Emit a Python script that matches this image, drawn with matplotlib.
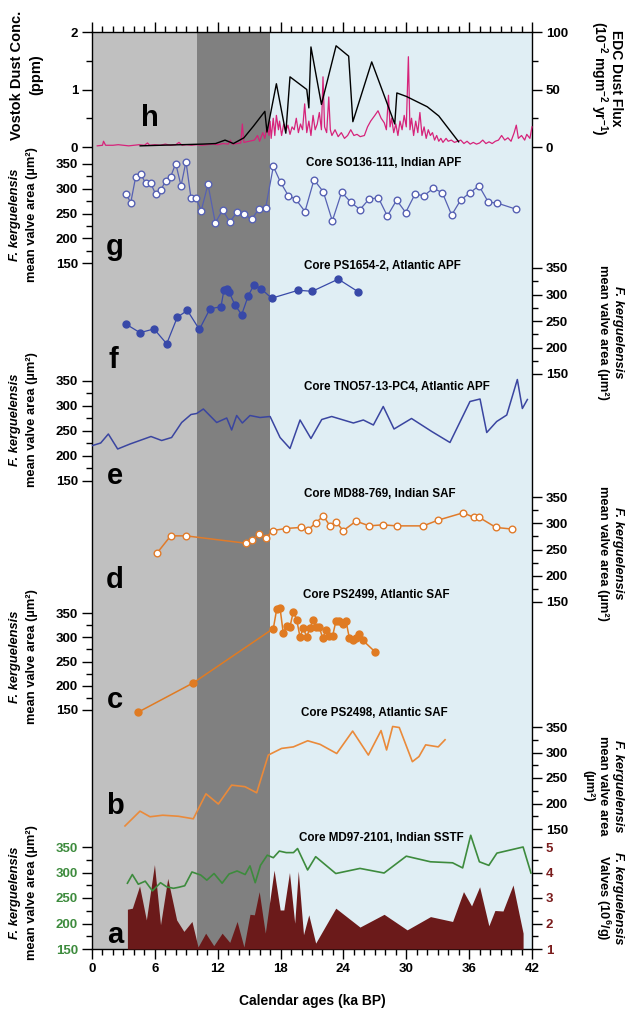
import matplotlib
matplotlib.use('Agg')
import matplotlib.pyplot as plt
from matplotlib.ticker import MultipleLocator, FormatStrFormatter

plt.rcParams['font.family'] = ['Liberation Sans', 'DejaVu Sans']
plt.rcParams['font.weight'] = 'bold'
plt.rcParams['mathtext.fontset'] = 'custom'
plt.rcParams['mathtext.rm'] = 'Liberation Sans:bold'
plt.rcParams['mathtext.bf'] = 'Liberation Sans:bold'
plt.rcParams['mathtext.it'] = 'Liberation Sans:bold:italic'

# ---- data (ka BP) ----
# h: EDC dust flux (10^-2 mg m-2 yr-1)
edc_age = [4.6, 6.5, 8.5, 10.5, 11.8, 12.7, 13.5, 14.5, 15.4, 16.5, 16.7, 17.6, 18.5, 18.9,
           20.5, 20.7, 20.9, 21.9, 23.3, 24.5, 24.9, 26.7, 28.9, 29.1, 30.0, 32.0, 33.1, 35.0]
edc_flux = [1, 1.5, 2, 2.5, 3, 6, 3, 8, 18, 31, 13, 55, 12, 61,
            50, 34, 87, 37, 88, 79, 22, 74, 20, 47, 44, 35, 27, 4.5]

# h: Vostok dust concentration (ppm)
vostok_age = [0.5, 1.0, 1.1, 1.3, 2.0, 2.5, 3.0, 3.5, 4.0, 4.5, 5.0, 5.3, 5.5, 6.0, 6.5, 7.0, 7.5,
              8.0, 8.3, 8.6, 9.0, 9.5, 10.0, 10.5, 11.0, 11.5, 12.0, 12.5, 13.0, 13.2, 13.4, 13.8,
              14.2, 14.35, 14.5, 15.0, 15.5, 15.8, 16.0, 16.3, 16.5, 16.7, 16.9, 17.0, 17.1, 17.3,
              17.45, 17.6, 17.8, 17.9, 18.1, 18.3, 18.5, 18.7, 18.9, 19.1, 19.3, 19.5, 19.7, 19.9,
              20.1, 20.3, 20.5, 20.7, 20.9, 21.1, 21.3, 21.5, 21.7, 21.9, 22.05, 22.2, 22.4, 22.6,
              22.75, 22.9, 23.2, 23.5, 23.8, 24.1, 24.4, 24.7, 25.0, 25.3, 25.6, 26.0, 26.3, 26.6,
              27.0, 27.3, 27.6, 27.9, 28.1, 28.3, 28.45, 28.6, 28.8, 29.0, 29.2, 29.4, 29.6, 29.8,
              30.0, 30.2, 30.35, 30.5, 30.7, 30.9, 31.1, 31.3, 31.5, 31.7, 31.9, 32.1, 32.3, 32.5,
              32.7, 32.9, 33.1, 33.3, 33.5, 33.8, 34.0, 34.3, 34.6, 34.9, 35.2, 35.5, 35.8, 36.1,
              36.4, 36.7, 37.0, 37.3, 37.6, 37.9, 38.2, 38.5, 38.8, 39.1, 39.4, 39.7, 40.0, 40.3,
              40.5, 40.7, 41.0, 41.3, 41.5, 41.8, 42.0]
vostok_ppm = [0.02, 0.03, 0.1, 0.03, 0.03, 0.04, 0.03, 0.02, 0.03, 0.04, 0.03, 0.07, 0.03, 0.04,
              0.03, 0.05, 0.03, 0.04, 0.08, 0.03, 0.04, 0.03, 0.04, 0.03, 0.04, 0.05, 0.04, 0.06,
              0.05, 0.12, 0.05, 0.06, 0.07, 0.4, 0.08, 0.1, 0.12, 0.2, 0.1, 0.25, 0.15, 0.35, 0.2,
              0.45, 0.15, 0.5, 0.2, 0.55, 0.3, 0.45, 0.2, 0.4, 0.28, 0.38, 0.22, 0.35, 0.3, 0.5,
              0.25, 0.4, 0.3, 0.75, 0.25, 0.45, 0.2, 0.55, 0.3, 0.4, 0.6, 0.3, 1.22, 0.35, 0.25,
              0.87, 0.3, 0.2, 0.3, 0.18, 0.25, 0.15, 0.2, 0.3, 0.2, 0.22, 0.18, 0.2, 0.35, 0.45,
              0.55, 0.63, 0.5, 0.42, 0.3, 0.9, 0.35, 0.5, 0.25, 0.4, 0.2, 0.45, 0.3, 0.55, 0.35,
              1.57, 0.3, 0.5, 0.2, 0.45, 0.25, 0.6, 0.2, 0.35, 0.15, 0.3, 0.2, 0.25, 0.12, 0.2,
              0.1, 0.15, 0.08, 0.15, 0.1, 0.12, 0.08, 0.1, 0.12, 0.06, 0.1, 0.05, 0.08, 0.05,
              0.07, 0.12, 0.06, 0.09, 0.06, 0.1, 0.12, 0.2, 0.12, 0.16, 0.1, 0.25, 0.38, 0.15,
              0.2, 0.12, 0.22, 0.15, 0.35]

# g: SO136-111, Indian APF
g_age = [3.25, 3.7, 4.17, 4.65, 5.12, 5.6, 6.08, 6.56, 7.03, 7.5, 7.99, 8.5, 8.97, 9.45, 9.93,
         10.43, 11.07, 11.77, 12.46, 13.17, 13.87, 14.54, 15.24, 15.94, 16.58, 17.31, 18.0,
         18.74, 19.44, 20.33, 21.19, 22.08, 22.94, 23.83, 24.69, 25.58, 26.44, 27.33, 28.19,
         29.08, 29.94, 30.83, 31.69, 32.58, 33.44, 34.33, 35.19, 36.08, 36.94, 37.83, 38.69, 40.44]
g_area = [289, 272, 324, 330, 311, 311, 289, 297, 316, 324, 351, 306, 355, 281, 281,
          256, 309, 231, 257, 233, 254, 249, 238, 260, 262, 345, 313,
          286, 279, 254, 318, 294, 235, 293, 273, 258, 279, 282, 245,
          277, 252, 289, 286, 301, 292, 247, 277, 292, 306, 273, 271, 259]

# f: PS1654-2, Atlantic APF
f_age = [3.25, 4.58, 5.92, 7.13, 8.14, 9.1, 10.25, 11.26, 12.31, 12.6, 12.86, 13.1, 13.65,
         14.29, 14.92, 15.46, 16.13, 17.15, 19.69, 21.02, 23.51, 25.42]
f_area = [244, 228, 235, 207, 257, 270, 234, 273, 277, 309, 310, 304, 280,
          262, 298, 318, 311, 293, 308, 306, 329, 305]

# e: TNO57-13-PC4, Atlantic APF
e_age = [0.06, 0.83, 1.56, 2.45, 3.63, 5.63, 6.65, 7.6, 8.56, 9.45, 9.99, 10.63, 11.9, 12.86,
         13.33, 13.81, 14.35, 15.08, 16.04, 17.0, 17.95, 18.9, 19.86, 20.9, 21.93, 22.88, 24.95,
         25.9, 26.86, 27.8, 28.83, 30.5, 32.43, 34.17, 36.08, 37.04, 37.68, 38.63, 39.59, 40.6,
         41.08, 41.56]
e_area = [221, 226, 244, 214, 224, 239, 231, 237, 267, 283, 285, 294, 267, 276,
          252, 281, 266, 281, 277, 279, 237, 215, 272, 235, 273, 279, 266,
          272, 262, 299, 254, 275, 249, 227, 309, 314, 247, 269, 282, 353,
          295, 313]

# d: MD88-769, Indian SAF
d_age = [6.24, 7.51, 8.97, 14.67, 15.3, 15.97, 16.6, 17.25, 18.49, 19.92, 20.65, 21.38, 22.08,
         22.72, 23.29, 23.99, 25.2, 26.47, 27.74, 29.08, 31.62, 33.05, 35.44, 36.46, 36.97,
         38.56, 40.06]
d_area = [244, 276, 276, 262, 268, 280, 272, 286, 290, 292, 288, 301, 314,
          295, 302, 286, 304, 295, 297, 295, 295, 306, 320, 311, 311,
          292, 289]

# c: PS2499, Atlantic SAF
c_age = [4.36, 9.67, 17.31, 17.63, 17.95, 18.26, 18.58, 18.9, 19.22, 19.54, 19.86, 20.17, 20.49,
         20.81, 21.13, 21.38, 21.7, 22.02, 22.34, 22.66, 22.97, 23.29, 23.61, 23.93, 24.25,
         24.57, 24.88, 25.2, 25.52, 25.84, 27.01]
c_area = [145, 206, 318, 358, 360, 308, 324, 322, 353, 336, 300, 320, 300,
          320, 336, 321, 321, 298, 315, 303, 303, 334, 334, 327, 333,
          298, 294, 298, 306, 294, 270]

# b: PS2498, Atlantic SAF
b_age = [3.15, 4.58, 5.54, 6.75, 8.24, 9.67, 10.88, 12.06, 13.33, 14.6, 15.72, 16.83, 18.1,
         19.22, 20.59, 21.77, 23.36, 24.88, 26.38, 27.59, 28.12, 28.7, 29.33, 30.58, 31.21,
         31.85, 33.05, 33.7]
b_area = [156, 185, 174, 177, 175, 170, 219, 199, 236, 233, 221, 295, 308,
          311, 323, 316, 298, 342, 295, 343, 305, 351, 349, 282, 292,
          315, 311, 325]

# a: MD97-2101, Indian SSTF (mean valve area)
a_age = [3.38, 3.85, 4.42, 5.08, 5.77, 6.54, 7.12, 7.77, 8.27, 8.85, 9.54, 10.38, 10.96, 11.65,
         12.42, 13.08, 13.85, 14.62, 15.08, 15.58, 16.08, 16.73, 17.31, 17.88, 18.54, 19.23,
         19.62, 20.58, 21.35, 23.27, 25.58, 27.88, 30.0, 32.31, 34.42, 35.38, 36.15, 36.98,
         37.88, 38.65, 41.15, 41.9]
a_area = [279, 296, 277, 283, 264, 280, 272, 269, 271, 274, 301, 295, 285, 298,
          279, 297, 303, 296, 313, 280, 314, 334, 329, 342, 339, 339,
          347, 305, 331, 298, 308, 299, 332, 321, 319, 309, 373, 321,
          314, 338, 350, 299]

# a: MD97-2101 valves (10^6/g)
v_age = [3.38, 3.38, 3.85, 4.54, 5.19, 5.96, 6.54, 7.23, 8.08, 8.77, 9.54, 10.12, 10.85, 11.62,
         12.42, 13.15, 13.85, 14.5, 15.08, 15.5, 15.96, 16.54, 17.38, 17.96, 18.31, 18.85,
         19.35, 19.69, 20.19, 20.69, 21.35, 23.27, 25.58, 27.88, 30.08, 32.31, 34.42, 35.46,
         36.23, 37.0, 37.88, 38.46, 39.23, 40.19, 41.15, 41.15]
v_count = [1.0, 2.56, 2.6, 3.47, 2.14, 4.31, 1.95, 3.77, 2.14, 1.69, 2.08, 1.08, 1.62, 1.13,
           1.62, 1.26, 2.08, 1.08, 2.36, 2.34, 3.25, 1.62, 4.09, 2.53, 2.53, 4.0,
           2.01, 4.06, 1.56, 2.34, 1.23, 2.6, 1.86, 2.36, 1.75, 2.27, 2.08, 3.25,
           2.69, 3.44, 1.91, 2.51, 2.49, 3.51, 1.62, 1.0]

# ---- layout (pixels) ----
W, H = 630, 1015
L, R, T, B = 92, 532, 32, 949


def frect(y_hi, y_lo):
    return [L / W, 1 - y_lo / H, (R - L) / W, (y_lo - y_hi) / H]


def fx(x):
    return x / W


def fy(y):
    return 1 - y / H


fig = plt.figure(figsize=(6.3, 10.15), dpi=100)

# background with climate intervals
ax0 = fig.add_axes(frect(T, B))
ax0.set_xlim(0, 42)
ax0.set_ylim(0, 1)
ax0.axvspan(0, 10, color='#c0c0c0', lw=0)
ax0.axvspan(10, 17, color='#808080', lw=0)
ax0.axvspan(17, 42, color='#e0eef4', lw=0)
ax0.set_yticks([])
ax0.xaxis.set_major_locator(MultipleLocator(6))
ax0.xaxis.set_minor_locator(MultipleLocator(1))
ax0.tick_params(axis='x', which='both', top=True, bottom=True, direction='out', width=1,
                labelsize=9.5, pad=3)
ax0.tick_params(axis='x', which='major', length=7)
ax0.tick_params(axis='x', which='minor', length=4)
for s in ax0.spines.values():
    s.set_linewidth(1)
ax0.set_xlabel('Calendar ages (ka BP)', fontsize=10, fontweight='bold', labelpad=14)


def panel(y_hi, y_lo, lo, hi, side, major, minor, color='black'):
    ax = fig.add_axes(frect(y_hi, y_lo))
    ax.set_xlim(0, 42)
    ax.set_ylim(lo, hi)
    ax.patch.set_visible(False)
    for s in ax.spines.values():
        s.set_visible(False)
    ax.set_xticks([])
    ax.yaxis.set_major_locator(MultipleLocator(major))
    ax.yaxis.set_minor_locator(MultipleLocator(minor))
    ax.yaxis.set_major_formatter(FormatStrFormatter('%g'))
    left = side == 'left'
    ax.tick_params(axis='y', which='both', direction='out', width=1, labelsize=9.5,
                   labelcolor=color, left=left, labelleft=left,
                   right=not left, labelright=not left, pad=3)
    ax.tick_params(axis='y', which='major', length=7)
    ax.tick_params(axis='y', which='minor', length=4)
    return ax


# h
axh = panel(32, 147, 0, 2, 'left', 1, 0.5)
axh.plot(vostok_age, vostok_ppm, color='#d6237a', lw=0.9, clip_on=False)
axh2 = panel(32, 147, 0, 100, 'right', 50, 25)
axh2.plot(edc_age, edc_flux, color='black', lw=1, clip_on=False)

# g
axg = panel(164, 263, 150, 350, 'left', 50, 25)
axg.plot(g_age, g_area, '-o', color='#5661b3', lw=0.9, ms=4.8, mfc='white', mec='#5661b3',
         mew=1, clip_on=False)

# f
axf = panel(268, 374, 150, 350, 'right', 50, 25)
axf.plot(f_age, f_area, '-o', color='#3849a8', lw=0.9, ms=5, clip_on=False)

# e
axe = panel(381, 481, 150, 350, 'left', 50, 25)
axe.plot(e_age, e_area, '-', color='#3a45a0', lw=1.1, clip_on=False)

# d
axd = panel(497, 602, 150, 350, 'right', 50, 25)
axd.plot(d_age, d_area, '-o', color='#e07b2a', lw=1.1, ms=4.8, mfc='white', mec='#e07b2a',
         mew=1, clip_on=False)

# c
axc = panel(613, 710, 150, 350, 'left', 50, 25)
axc.plot(c_age, c_area, '-o', color='#e07b22', lw=1.1, ms=5, clip_on=False)

# b
axb = panel(727, 829, 150, 350, 'right', 50, 25)
axb.plot(b_age, b_area, '-', color='#ea8a3a', lw=1.2, clip_on=False)

# a
axa2 = panel(847, 949, 1, 5, 'right', 1, 0.5, color='#7a1c1c')
axa2.fill_between(v_age, v_count, 1, color='#6b1a1a', lw=0)
axa = panel(847, 949, 150, 350, 'left', 50, 25, color='#3d8b3d')
axa.plot(a_age, a_area, '-', color='#3d8b3d', lw=1.2, clip_on=False)

# panel letters
for letter, x, y in [('h', 150, 118), ('g', 115, 247), ('f', 113, 360), ('e', 115, 476),
                     ('d', 115, 580), ('c', 115, 700), ('b', 115, 806), ('a', 115, 935)]:
    fig.text(fx(x), fy(y), letter, fontsize=21, fontweight='bold', ha='center', va='center')

# core labels
for txt, x, y in [('Core SO136-111, Indian APF', 384, 163),
                  ('Core PS1654-2, Atlantic APF', 382, 266),
                  ('Core TNO57-13-PC4, Atlantic APF', 397, 387),
                  ('Core MD88-769, Indian SAF', 380, 494),
                  ('Core PS2499, Atlantic SAF', 376, 595),
                  ('Core PS2498, Atlantic SAF', 374, 713),
                  ('Core MD97-2101, Indian SSTF', 381, 838)]:
    fig.text(fx(x), fy(y), txt, fontsize=8.4, fontweight='bold', ha='center', va='center')

# axis titles
fig.text(fx(17), fy(75), 'Vostok Dust Conc.', fontsize=10.5, fontweight='bold', rotation=90,
         ha='center', va='center')
fig.text(fx(36), fy(75), '(ppm)', fontsize=10.5, fontweight='bold', rotation=90,
         ha='center', va='center')
fig.text(fx(616), fy(78), 'EDC Dust Flux', fontsize=10, fontweight='bold', rotation=270,
         ha='center', va='center')
fig.text(fx(599), fy(78), r'(10$^{-2}$ mgm$^{-2}$ yr$^{-1}$)', fontsize=10, fontweight='bold',
         rotation=270, ha='center', va='center')

LBL = 9.3
for yc in [215, 420, 657, 893]:
    fig.text(fx(15), fy(yc), 'F. kerguelensis', fontsize=LBL, fontweight='bold', style='italic',
             rotation=90, ha='center', va='center')
    fig.text(fx(32), fy(yc), 'mean valve area (µm²)', fontsize=LBL, fontweight='bold',
             rotation=90, ha='center', va='center')

for yc in [332, 553]:
    fig.text(fx(618), fy(yc), 'F. kerguelensis', fontsize=LBL, fontweight='bold', style='italic',
             rotation=270, ha='center', va='center')
    fig.text(fx(603), fy(yc), 'mean valve area (µm²)', fontsize=LBL, fontweight='bold',
             rotation=270, ha='center', va='center')

fig.text(fx(618), fy(786), 'F. kerguelensis', fontsize=LBL, fontweight='bold', style='italic',
         rotation=270, ha='center', va='center')
fig.text(fx(603), fy(786), 'mean valve area', fontsize=LBL, fontweight='bold',
         rotation=270, ha='center', va='center')
fig.text(fx(588), fy(786), '(µm²)', fontsize=LBL, fontweight='bold',
         rotation=270, ha='center', va='center')

fig.text(fx(618), fy(898), 'F. kerguelensis', fontsize=LBL, fontweight='bold', style='italic',
         rotation=270, ha='center', va='center')
fig.text(fx(603), fy(898), r'Valves (10$^{6}$/g)', fontsize=LBL, fontweight='bold',
         rotation=270, ha='center', va='center')

fig.savefig('out.png', dpi=100)
